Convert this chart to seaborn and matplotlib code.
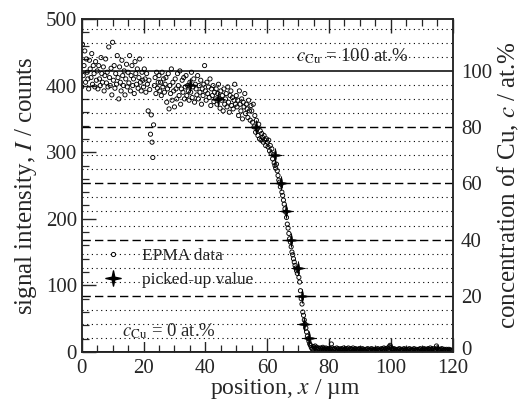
import numpy as np
import pandas as pd
import matplotlib
matplotlib.use("Agg")
import matplotlib.pyplot as plt
import matplotlib.path as mpath
import matplotlib.transforms as mtransforms
from matplotlib.lines import Line2D
import seaborn as sns

# ---------------- data ----------------
x_step = 0.25  # measurement step of the EPMA line scan (µm)
epma_counts = [
    # 0-5 µm
    398, 462, 415, 430, 452, 405, 440, 420, 410, 395, 438, 425, 412, 448, 402, 430, 418, 398, 436, 408,
    # 5-10
    422, 395, 430, 410, 400, 442, 418, 405, 428, 392, 415, 440, 404, 420, 398, 458, 412, 400, 426, 386,
    # 10-15
    465, 408, 430, 396, 418, 402, 445, 412, 380, 428, 405, 392, 438, 415, 400, 422, 386, 410, 432, 398,
    # 15-20
    420, 404, 445, 392, 415, 430, 400, 410, 388, 436, 418, 402, 425, 396, 412, 440, 405, 392, 420, 408,
    # 20-25
    398, 425, 410, 390, 418, 402, 362, 408, 394, 327, 356, 315, 292, 341, 400, 412, 388, 420, 396, 405,
    # 25-30
    415, 392, 405, 385, 420, 398, 410, 390, 402, 412, 375, 395, 418, 365, 400, 388, 425, 378, 405, 392,
    # 30-35
    368, 410, 395, 380, 418, 400, 385, 422, 372, 395, 408, 390, 412, 380, 398, 415, 385, 400, 392, 378,
    # 35-40
    405, 390, 420, 382, 398, 410, 375, 402, 395, 386, 415, 380, 400, 390, 408, 372, 395, 385, 402, 430,
    # 40-45
    392, 378, 405, 388, 398, 382, 410, 370, 395, 385, 400, 376, 390, 380, 395, 372, 388, 402, 380, 366,
    # 45-50
    392, 378, 385, 362, 395, 372, 380, 388, 368, 398, 375, 360, 385, 392, 370, 382, 365, 378, 402, 372,
    # 50-55
    385, 368, 378, 355, 392, 372, 362, 380, 350, 375, 368, 388, 358, 372, 365, 352, 378, 362, 348, 370,
    # 55-60
    362, 345, 372, 338, 355, 330, 348, 335, 325, 342, 320, 332, 318, 328, 322, 315, 325, 318, 310, 320,
    # 60-65
    315, 308, 318, 302, 310, 298, 305, 290, 296, 284, 280, 276, 282, 272, 265, 258, 255, 248, 252, 240,
    # 65-70
    235, 228, 222, 215, 210, 202, 192, 186, 178, 170, 165, 158, 150, 146, 140, 135, 130, 126, 122, 118,
    # 70-75
    125, 112, 105, 92, 80, 72, 60, 55, 48, 42, 36, 30, 24, 20, 16, 12, 10, 7, 5, 4,
    # 75-80
    8, 6, 9, 5, 7, 4, 6, 5, 3, 6, 4, 5, 7, 3, 5, 4, 6, 3, 5, 4,
    # 80-85
    3, 5, 4, 12, 6, 4, 3, 5, 2, 4, 6, 3, 5, 2, 4, 3, 5, 4, 2, 6,
    # 85-90
    3, 4, 2, 5, 3, 6, 4, 2, 5, 3, 4, 6, 2, 3, 5, 4, 2, 4, 3, 5,
    # 90-95
    4, 2, 3, 5, 2, 4, 3, 1, 4, 3, 5, 2, 3, 4, 2, 5, 3, 2, 4, 3,
    # 95-100
    2, 4, 3, 5, 2, 3, 4, 2, 5, 3, 4, 6, 3, 5, 4, 2, 6, 4, 8, 10,
    # 100-105
    7, 5, 4, 3, 5, 2, 4, 3, 2, 4, 3, 5, 2, 3, 4, 2, 3, 5, 2, 4,
    # 105-110
    3, 2, 4, 3, 5, 2, 3, 4, 2, 3, 5, 3, 2, 4, 3, 2, 4, 3, 5, 2,
    # 110-115
    3, 4, 2, 5, 3, 4, 2, 3, 5, 4, 3, 6, 4, 3, 5, 4, 2, 3, 4, 9,
    # 115-120
    6, 4, 3, 2, 4, 3, 5, 2, 3, 4, 3, 2, 4, 3, 2, 4, 3, 2, 3, 2,
]
epma_x = [i * x_step for i in range(len(epma_counts))]

picked_x = [34.9, 44.1, 56.3, 62.5, 64.4, 66.1, 67.7, 70.1, 71.2, 72.0, 73.4]
picked_c = [95, 90, 80, 70, 60, 50, 40, 30, 20, 10, 5]

counts_at_100 = 422.0          # intensity corresponding to 100 at.% Cu
dotted_levels = [5, 10, 15, 25, 30, 35, 45, 50, 55, 65, 70, 75, 85, 90, 95, 105, 110, 115]
dashed_levels = [20, 40, 60, 80]
solid_levels = [0, 100]
right_ticks = [0, 20, 40, 60, 80, 100]

# ---------------- style ----------------
sns.set_style("ticks")
plt.rcParams["font.family"] = ["Liberation Serif", "DejaVu Serif"]
plt.rcParams["mathtext.fontset"] = "stix"
plt.rcParams["axes.linewidth"] = 1.1

fig = plt.figure(figsize=(5.23, 4.03), dpi=100)
ax = fig.add_axes([0.1562, 0.1266, 0.7094, 0.8263])
ax2 = ax.twinx()

scale = counts_at_100 / 100.0
ax.set_xlim(0, 120)
ax.set_ylim(0, 500)
ax2.set_ylim(0, 500 / scale)

# reference lines (concentration scale)
for c in dotted_levels:
    ax2.axhline(c, color="black", lw=0.8, ls=(0, (1, 3.2)), zorder=1)
for c in dashed_levels:
    ax2.axhline(c, color="black", lw=1.0, ls=(0, (6, 3)), zorder=1)
for c in solid_levels:
    ax2.axhline(c, color="black", lw=1.1, zorder=1)

df_epma = pd.DataFrame({"x": epma_x, "I": epma_counts})
df_pick = pd.DataFrame({"x": picked_x, "I": [c * scale for c in picked_c]})

star_a = 0.17
star_path = mpath.Path(
    [(0, 1), (star_a, star_a), (1, 0), (star_a, -star_a), (0, -1),
     (-star_a, -star_a), (-1, 0), (-star_a, star_a), (0, 1)],
    [mpath.Path.MOVETO] + [mpath.Path.LINETO] * 7 + [mpath.Path.CLOSEPOLY],
)

sns.scatterplot(data=df_epma, x="x", y="I", ax=ax, marker="o", s=9,
                facecolors="none", edgecolors="black", linewidth=0.65,
                zorder=3, legend=False)
sns.scatterplot(data=df_pick, x="x", y="I", ax=ax, marker=star_path, s=105,
                color="black", edgecolor="black", linewidth=0.4,
                zorder=4, legend=False)

# axes ticks
ax.set_xticks(np.arange(0, 121, 20))
ax.set_xticks(np.arange(0, 121, 5), minor=True)
ax.set_yticks(np.arange(0, 501, 100))
ax.set_yticks(np.arange(0, 501, 20), minor=True)
ax.tick_params(axis="both", which="major", direction="in", length=10, width=1.0,
               top=True, labelsize=15, right=False)
ax.tick_params(axis="x", which="major", pad=5)
ax.tick_params(axis="y", which="major", pad=3.5)
ax.tick_params(axis="both", which="minor", direction="in", length=5, width=0.9,
               top=True, right=False)
ax2.set_yticks(right_ticks)
ax2.tick_params(axis="y", which="both", length=0, labelsize=15, pad=6)

ax.set_xlabel("position, $x$ / µm", fontsize=17, labelpad=-1, x=0.548)
ax.set_ylabel("signal intensity, $I$ / counts", fontsize=18, labelpad=5)
ax2.set_ylabel("concentration of Cu, $c$ / at.%", fontsize=18, labelpad=3)

# lift the right-hand "0" a little, as in the reference, off the x tick labels
fig.canvas.draw()
zero_lab = ax2.yaxis.get_major_ticks()[0].label2
zero_lab.set_transform(zero_lab.get_transform() +
                       mtransforms.ScaledTranslation(0, 3 / 72, fig.dpi_scale_trans))

# annotations
box = dict(facecolor="white", edgecolor="none", pad=0.5)
ax.text(87.6, 444, r"$c_{\mathrm{Cu}}$ = 100 at.%", fontsize=13.5,
        ha="center", va="center", bbox=box, zorder=5)
ax.text(28.1, 31, r"$c_{\mathrm{Cu}}$ = 0 at.%", fontsize=13.5,
        ha="center", va="center", bbox=box, zorder=5)

handles = [
    Line2D([], [], ls="none", marker="o", ms=3, mfc="none", mec="black", mew=0.7),
    Line2D([], [], ls="none", marker=star_path, ms=11, color="black"),
]
leg = ax.legend(handles, ["EPMA data", "picked-up value"], loc="upper left",
                bbox_to_anchor=(0.037, 0.333), frameon=False, fontsize=12.5,
                handlelength=1.2, handletextpad=1.1, labelspacing=0.45,
                borderaxespad=0)
for t in leg.get_texts():
    t.set_bbox(dict(facecolor="white", edgecolor="none", pad=0.3))
leg.set_zorder(6)

for s in ax.spines.values():
    s.set_linewidth(1.1)
for s in ax2.spines.values():
    s.set_linewidth(1.1)

fig.savefig("out.png", dpi=100)
